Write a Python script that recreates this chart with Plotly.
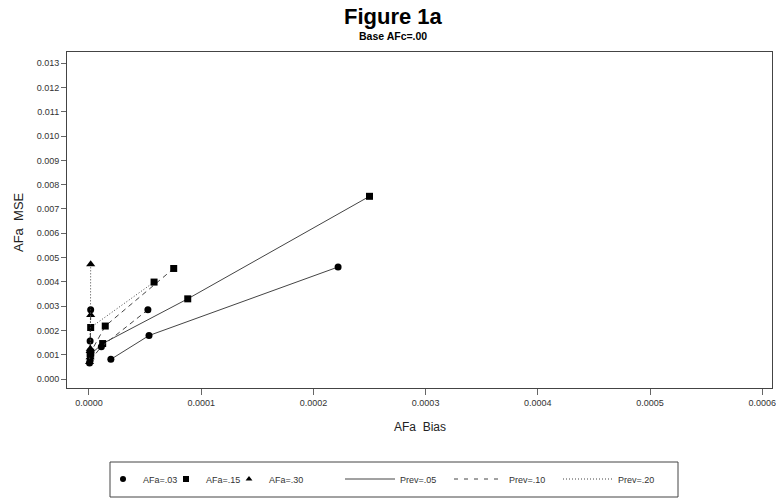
import plotly.graph_objects as go

# ---- data (AFa Bias, AFa MSE) per AFa level x prevalence ----
prev05_afa03_x = [2.22e-4, 5.35e-5, 1.95e-5]
prev05_afa03_y = [4.61e-3, 1.79e-3, 8.1e-4]
prev05_afa15_x = [2.50e-4, 8.80e-5, 1.22e-5, 1.5e-6]
prev05_afa15_y = [7.52e-3, 3.30e-3, 1.46e-3, 1.02e-3]
prev05_afa30_x = [1.0e-6, 5e-7]
prev05_afa30_y = [1.15e-3, 7.0e-4]

prev10_afa03_x = [5.25e-5, 1.10e-5, 1.0e-6]
prev10_afa03_y = [2.85e-3, 1.33e-3, 7.6e-4]
prev10_afa15_x = [7.55e-5, 1.45e-5, 1.5e-6]
prev10_afa15_y = [4.55e-3, 2.18e-3, 1.10e-3]
prev10_afa30_x = [1.5e-6, 1.0e-6]
prev10_afa30_y = [2.63e-3, 9.0e-4]

prev20_afa03_x = [1.5e-6, 1.0e-6, 5e-7]
prev20_afa03_y = [2.85e-3, 1.56e-3, 6.6e-4]
prev20_afa15_x = [5.8e-5, 1.5e-6, 1.0e-6]
prev20_afa15_y = [3.99e-3, 2.12e-3, 1.05e-3]
prev20_afa30_x = [1.5e-6, 1.2e-6]
prev20_afa30_y = [4.72e-3, 1.25e-3]

afa_labels = ["AFa=.03", "AFa=.15", "AFa=.30"]
prev_labels = ["Prev=.05", "Prev=.10", "Prev=.20"]

x_ticks = [0.0, 0.0001, 0.0002, 0.0003, 0.0004, 0.0005, 0.0006]
y_ticks = [i / 1000 for i in range(0, 14)]

symbols = ["circle", "square", "triangle-up"]
msizes = [7, 7, 8]
dashes = ["solid", "5px,4px", "1px,2px"]

series = [
    (0, 0, prev05_afa03_x, prev05_afa03_y),
    (1, 0, prev05_afa15_x, prev05_afa15_y),
    (2, 0, prev05_afa30_x, prev05_afa30_y),
    (0, 1, prev10_afa03_x, prev10_afa03_y),
    (1, 1, prev10_afa15_x, prev10_afa15_y),
    (2, 1, prev10_afa30_x, prev10_afa30_y),
    (0, 2, prev20_afa03_x, prev20_afa03_y),
    (1, 2, prev20_afa15_x, prev20_afa15_y),
    (2, 2, prev20_afa30_x, prev20_afa30_y),
]

FONT = "Liberation Sans, Arial, sans-serif"
fig = go.Figure()

for a, p, xs, ys in series:
    fig.add_trace(go.Scatter(
        x=xs, y=ys, mode="lines+markers", showlegend=False,
        line=dict(color="#444", width=1, dash=dashes[p]),
        marker=dict(symbol=symbols[a], size=msizes[a], color="black"),
    ))

# legend entries
for a in range(3):
    fig.add_trace(go.Scatter(
        x=[None], y=[None], mode="markers", name=afa_labels[a], legend="legend",
        marker=dict(symbol=symbols[a], size=6, color="black"),
    ))
# spacer entry so the last marker label is not clipped
fig.add_trace(go.Scatter(
    x=[None], y=[None], mode="markers", name=" ", legend="legend",
    marker=dict(size=1, color="rgba(0,0,0,0)"), hoverinfo="skip",
))
for p in range(3):
    fig.add_trace(go.Scatter(
        x=[None], y=[None], mode="lines", name=prev_labels[p], legend="legend2",
        line=dict(color="#444", width=1, dash=dashes[p] if p != 1 else "4px,6px"),
    ))

L, R, T, B = 67, 4, 52, 111
W, H = 776, 499
pw, ph = W - L - R, H - T - B


def px_x(px):
    return (px - L) / pw


def px_y(py):
    return (H - B - py) / ph


fig.update_layout(
    width=W, height=H,
    margin=dict(l=L, r=R, t=T, b=B, autoexpand=False),
    paper_bgcolor="white", plot_bgcolor="white",
    font=dict(family=FONT, size=9, color="#222"),
    xaxis=dict(
        range=[-1.96e-5, 6.087e-4], tickvals=x_ticks, tickformat=".4f",
        showgrid=False, zeroline=False, showline=True, linecolor="#444", linewidth=1,
        mirror=True, ticks="outside", ticklen=6, tickcolor="#666",
        tickfont=dict(size=9, color="#333"), ticklabeloverflow="allow",
    ),
    yaxis=dict(
        range=[-3.7e-4, 1.346e-2], tickvals=y_ticks, tickformat=".3f",
        showgrid=False, zeroline=False, showline=True, linecolor="#444", linewidth=1,
        mirror=True, ticks="outside", ticklen=5, tickcolor="#666",
        tickfont=dict(size=9, color="#333"),
    ),
    legend=dict(
        orientation="h", x=px_x(103), y=px_y(479), xanchor="left", yanchor="middle",
        bgcolor="rgba(0,0,0,0)", borderwidth=0, itemwidth=30,
        entrywidth=18, entrywidthmode="pixels",
        font=dict(size=9, color="#333", family=FONT),
    ),
    legend2=dict(
        orientation="h", x=px_x(340), y=px_y(479), xanchor="left", yanchor="middle",
        bgcolor="rgba(0,0,0,0)", borderwidth=0, itemwidth=50,
        entrywidth=44, entrywidthmode="pixels",
        font=dict(size=9, color="#333", family=FONT),
    ),
    shapes=[dict(
        type="rect", xref="paper", yref="paper",
        x0=px_x(110), x1=px_x(678), y0=px_y(497), y1=px_y(462),
        line=dict(color="#444", width=1), fillcolor="rgba(0,0,0,0)",
    )],
    annotations=[
        dict(text="<b>Figure 1a</b>", xref="paper", yref="paper",
             x=px_x(393), y=px_y(17), xanchor="center", yanchor="middle",
             showarrow=False, font=dict(size=22, color="black", family=FONT)),
        dict(text="<b>Base AFc=.00</b>", xref="paper", yref="paper",
             x=px_x(393), y=px_y(36), xanchor="center", yanchor="middle",
             showarrow=False, font=dict(size=10.5, color="black", family=FONT)),
        dict(text="AFa  Bias", xref="paper", yref="paper",
             x=px_x(420), y=px_y(427), xanchor="center", yanchor="middle",
             showarrow=False, font=dict(size=12, color="#222", family=FONT)),
        dict(text="AFa  MSE", xref="paper", yref="paper", textangle=-90,
             x=px_x(18), y=px_y(222), xanchor="center", yanchor="middle",
             showarrow=False, font=dict(size=13, color="#222", family=FONT)),
    ],
)

fig.write_html("out.html", config={"displayModeBar": False},
               post_script="document.body.style.margin='0';")
